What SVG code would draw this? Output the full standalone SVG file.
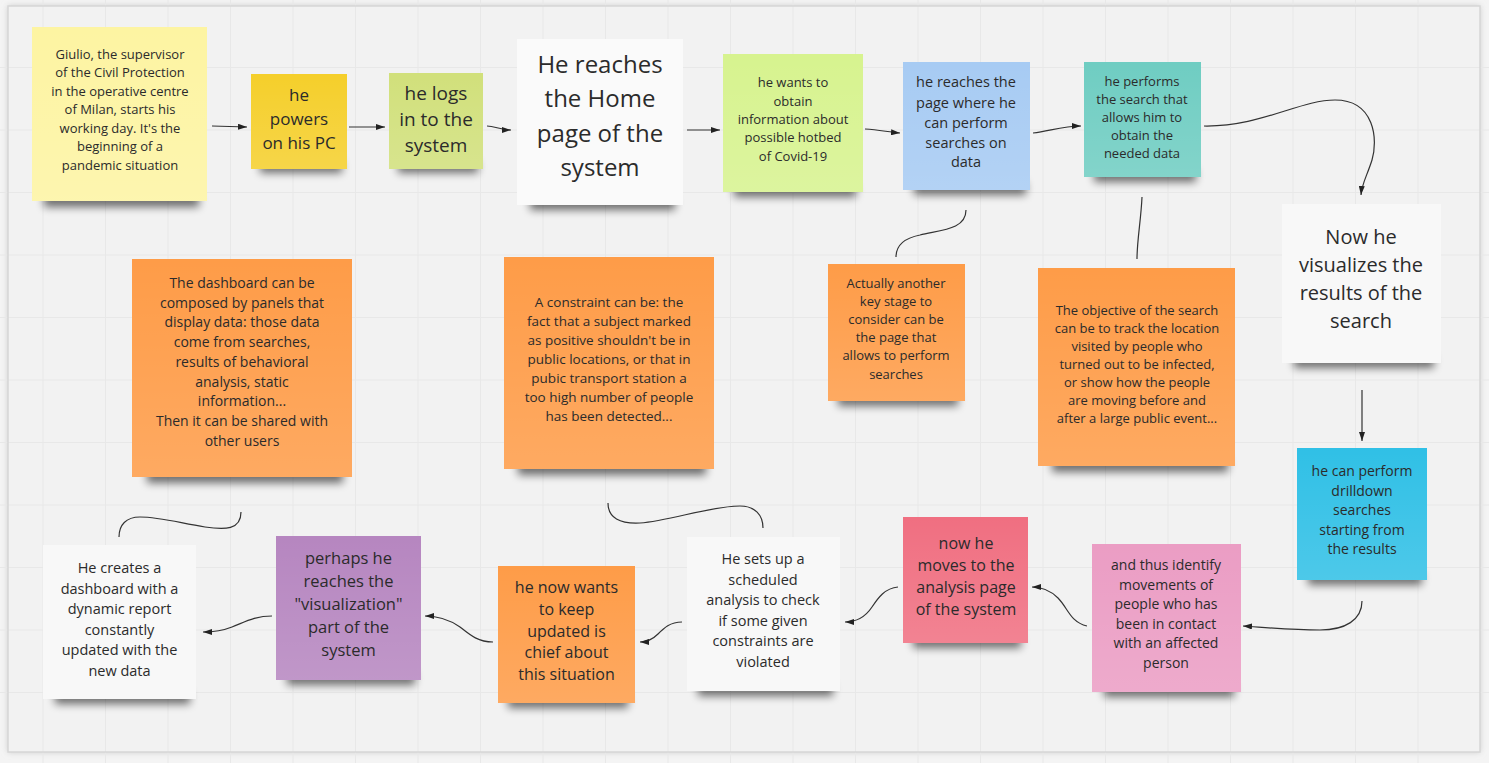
<svg xmlns="http://www.w3.org/2000/svg" width="1489" height="763" viewBox="0 0 1489 763">
<defs>
<style>
.note text{font-family:"Open Sans","Noto Sans","DejaVu Sans",sans-serif;fill:#2b2b2b;text-anchor:middle}
.sh{fill:#000;opacity:.55;filter:url(#blur)}
.gl{fill:url(#gloss)}
.con path{fill:none;stroke:#333;stroke-width:1.2}
.arr{marker-end:url(#ah)}
.grid line{stroke:#e8e8e8;stroke-width:1}
</style>
<filter id="blur" x="-20%" y="-100%" width="140%" height="300%"><feGaussianBlur stdDeviation="4"/></filter>
<filter id="fblur" x="-5%" y="-5%" width="110%" height="110%"><feGaussianBlur stdDeviation="3"/></filter>
<linearGradient id="gloss" x1="0" y1="0" x2="0" y2="1"><stop offset="0" stop-color="#fff" stop-opacity="0"/><stop offset="1" stop-color="#fff" stop-opacity="0.14"/></linearGradient>
<marker id="ah" markerUnits="userSpaceOnUse" markerWidth="9" markerHeight="6" refX="9" refY="3" orient="auto"><path d="M0,0 L9,3 L0,6 z" fill="#222"/></marker>
</defs>
<rect width="1489" height="763" fill="#f4f4f4"/>
<rect x="8" y="6" width="1472" height="746" fill="#c8c8c8" filter="url(#fblur)"/>
<rect x="8" y="6" width="1472" height="746" fill="#f2f2f2"/>
<g class="grid">
<line x1="43" y1="0" x2="43" y2="763"/><line x1="105.5" y1="0" x2="105.5" y2="763"/><line x1="168" y1="0" x2="168" y2="763"/><line x1="230.5" y1="0" x2="230.5" y2="763"/><line x1="293" y1="0" x2="293" y2="763"/><line x1="355.5" y1="0" x2="355.5" y2="763"/><line x1="418" y1="0" x2="418" y2="763"/><line x1="480.5" y1="0" x2="480.5" y2="763"/><line x1="543" y1="0" x2="543" y2="763"/><line x1="605.5" y1="0" x2="605.5" y2="763"/><line x1="668" y1="0" x2="668" y2="763"/><line x1="730.5" y1="0" x2="730.5" y2="763"/><line x1="793" y1="0" x2="793" y2="763"/><line x1="855.5" y1="0" x2="855.5" y2="763"/><line x1="918" y1="0" x2="918" y2="763"/><line x1="980.5" y1="0" x2="980.5" y2="763"/><line x1="1043" y1="0" x2="1043" y2="763"/><line x1="1105.5" y1="0" x2="1105.5" y2="763"/><line x1="1168" y1="0" x2="1168" y2="763"/><line x1="1230.5" y1="0" x2="1230.5" y2="763"/><line x1="1293" y1="0" x2="1293" y2="763"/><line x1="1355.5" y1="0" x2="1355.5" y2="763"/><line x1="1418" y1="0" x2="1418" y2="763"/>
<line x1="0" y1="67.5" x2="1489" y2="67.5"/><line x1="0" y1="130" x2="1489" y2="130"/><line x1="0" y1="192.5" x2="1489" y2="192.5"/><line x1="0" y1="255" x2="1489" y2="255"/><line x1="0" y1="317.5" x2="1489" y2="317.5"/><line x1="0" y1="380" x2="1489" y2="380"/><line x1="0" y1="442.5" x2="1489" y2="442.5"/><line x1="0" y1="505" x2="1489" y2="505"/><line x1="0" y1="567.5" x2="1489" y2="567.5"/><line x1="0" y1="630" x2="1489" y2="630"/><line x1="0" y1="692.5" x2="1489" y2="692.5"/>
</g>
<rect x="8" y="6" width="1472" height="746" fill="none" stroke="#d6d6d6" stroke-width="1.5"/>

<g id="connectors" class="con">
<path class="arr" d="M212,126 L247,127"/>
<path class="arr" d="M349,127 L385,127"/>
<path class="arr" d="M487,126 C495,126 500,130 511,130"/>
<path class="arr" d="M687,130 L720,130"/>
<path class="arr" d="M865,129 C880,130 888,132 900,133"/>
<path class="arr" d="M1033,133 C1050,131 1062,126 1081,126"/>
<path class="arr" d="M1204,126 C1260,127 1300,100 1335,100 C1375,100 1378,140 1372,160 C1367,176 1362,183 1361,195"/>
<path d="M966,210 C966,230 940,230 920,235 C905,238 896,245 896,257"/>
<path d="M1142,197 C1141,220 1137,240 1137,259"/>
<path class="arr" d="M1362,390 L1362,441"/>
<path class="arr" d="M1362,601 C1362,620 1345,630 1320,630 C1290,630 1260,627 1243,626"/>
<path class="arr" d="M1087,626 C1070,622 1068,608 1058,598 C1050,590 1042,587 1032,587"/>
<path class="arr" d="M898,587 C885,588 878,598 872,607 C866,616 858,622 845,622"/>
<path class="arr" d="M682,622 C670,622 664,628 658,634 C653,639 648,642 640,642"/>
<path class="arr" d="M493,642 C478,642 470,635 460,627 C450,620 440,616 425,616"/>
<path class="arr" d="M272,616 C255,616 245,622 232,627 C222,631 212,632 203,632"/>
<path d="M608,503 C608,518 620,524 640,523 C670,521 710,506 740,506 C755,506 763,515 763,528"/>
<path d="M241,512 C241,530 225,530 205,527 C180,523 160,517 140,517 C126,517 119,525 119,537"/>
</g>

<g id="n1" class="note">
<rect class="sh" x="44" y="193" width="155" height="14"/>
<rect x="32" y="27" width="175" height="174" fill="#fdf4a2"/>
<rect class="gl" x="32" y="27" width="175" height="174"/>
<text font-size="13"><tspan x="120" y="58.5">Giulio, the supervisor</tspan><tspan x="120" y="77">of the Civil Protection</tspan><tspan x="120" y="95.5">in the operative centre</tspan><tspan x="120" y="114">of Milan, starts his</tspan><tspan x="120" y="132.5">working day. It's the</tspan><tspan x="120" y="151">beginning of a</tspan><tspan x="120" y="169.5">pandemic situation</tspan></text>
</g>
<g id="n2" class="note">
<rect class="sh" x="260" y="161" width="82" height="12"/>
<rect x="251" y="74" width="96" height="95" fill="#f5cf2b"/>
<rect class="gl" x="251" y="74" width="96" height="95"/>
<text font-size="17"><tspan x="299" y="101">he</tspan><tspan x="299" y="125">powers</tspan><tspan x="299" y="149">on his PC</tspan></text>
</g>
<g id="n3" class="note">
<rect class="sh" x="398" y="161" width="80" height="12"/>
<rect x="389" y="73" width="94" height="96" fill="#d1e07b"/>
<rect class="gl" x="389" y="73" width="94" height="96"/>
<text font-size="19"><tspan x="436" y="100">he logs</tspan><tspan x="436" y="126">in to the</tspan><tspan x="436" y="152">system</tspan></text>
</g>
<g id="n4" class="note">
<rect class="sh" x="530" y="196" width="145" height="14"/>
<rect x="517" y="39" width="166" height="166" fill="#fafafa"/>
<text font-size="24"><tspan x="600" y="72.5">He reaches</tspan><tspan x="600" y="107">the Home</tspan><tspan x="600" y="141.5">page of the</tspan><tspan x="600" y="176">system</tspan></text>
</g>
<g id="n5" class="note">
<rect class="sh" x="734" y="184" width="122" height="13"/>
<rect x="723" y="54" width="140" height="138" fill="#d7f38f"/>
<rect class="gl" x="723" y="54" width="140" height="138"/>
<text font-size="13"><tspan x="793" y="87">he wants to</tspan><tspan x="793" y="105.5">obtain</tspan><tspan x="793" y="124">information about</tspan><tspan x="793" y="142">possible hotbed</tspan><tspan x="793" y="160.5">of Covid-19</tspan></text>
</g>
<g id="n6" class="note">
<rect class="sh" x="914" y="182" width="112" height="13"/>
<rect x="903" y="62" width="127" height="128" fill="#a7cbf3"/>
<rect class="gl" x="903" y="62" width="127" height="128"/>
<text font-size="14.5"><tspan x="966" y="87">he reaches the</tspan><tspan x="966" y="107.5">page where he</tspan><tspan x="966" y="127.5">can perform</tspan><tspan x="966" y="148">searches on</tspan><tspan x="966" y="167">data</tspan></text>
</g>
<g id="n7" class="note">
<rect class="sh" x="1094" y="169" width="102" height="13"/>
<rect x="1084" y="62" width="117" height="115" fill="#6fcdc2"/>
<rect class="gl" x="1084" y="62" width="117" height="115"/>
<text font-size="13"><tspan x="1142" y="85.5">he performs</tspan><tspan x="1142" y="103.5">the search that</tspan><tspan x="1142" y="121.5">allows him to</tspan><tspan x="1142" y="140">obtain the</tspan><tspan x="1142" y="158">needed data</tspan></text>
</g>
<g id="n8" class="note">
<rect class="sh" x="1294" y="355" width="140" height="13"/>
<rect x="1282" y="204" width="159" height="159" fill="#f8f8f8"/>
<text font-size="20"><tspan x="1361" y="244">Now he</tspan><tspan x="1361" y="272">visualizes the</tspan><tspan x="1361" y="300">results of the</tspan><tspan x="1361" y="328">search</tspan></text>
</g>
<g id="n9" class="note">
<rect class="sh" x="838" y="393" width="120" height="13"/>
<rect x="828" y="264" width="137" height="137" fill="#fe9c48"/>
<rect class="gl" x="828" y="264" width="137" height="137"/>
<text font-size="13"><tspan x="896" y="287.5">Actually another</tspan><tspan x="896" y="305.7">key stage to</tspan><tspan x="896" y="324">consider can be</tspan><tspan x="896" y="342.2">the page that</tspan><tspan x="896" y="360.4">allows to perform</tspan><tspan x="896" y="378.6">searches</tspan></text>
</g>
<g id="n10" class="note">
<rect class="sh" x="1052" y="458" width="176" height="14"/>
<rect x="1038" y="268" width="197" height="198" fill="#fe9c48"/>
<rect class="gl" x="1038" y="268" width="197" height="198"/>
<text font-size="13"><tspan x="1137" y="314.5">The objective of the search</tspan><tspan x="1137" y="332.5">can be to track the location</tspan><tspan x="1137" y="350.5">visited by people who</tspan><tspan x="1137" y="368.5">turned out to be infected,</tspan><tspan x="1137" y="386.5">or show how the people</tspan><tspan x="1137" y="404.5">are moving before and</tspan><tspan x="1137" y="422.5">after a large public event...</tspan></text>
</g>
<g id="n11" class="note">
<rect class="sh" x="1308" y="572" width="114" height="13"/>
<rect x="1297" y="448" width="130" height="132" fill="#30c0e6"/>
<rect class="gl" x="1297" y="448" width="130" height="132"/>
<text font-size="14"><tspan x="1362" y="476">he can perform</tspan><tspan x="1362" y="495.5">drilldown</tspan><tspan x="1362" y="515">searches</tspan><tspan x="1362" y="534.5">starting from</tspan><tspan x="1362" y="554">the results</tspan></text>
</g>
<g id="n12" class="note">
<rect class="sh" x="1104" y="684" width="130" height="13"/>
<rect x="1092" y="544" width="149" height="148" fill="#eb9dc4"/>
<rect class="gl" x="1092" y="544" width="149" height="148"/>
<text font-size="14"><tspan x="1166" y="570">and thus identify</tspan><tspan x="1166" y="589.6">movements of</tspan><tspan x="1166" y="609.2">people who has</tspan><tspan x="1166" y="628.8">been in contact</tspan><tspan x="1166" y="648.4">with an affected</tspan><tspan x="1166" y="668">person</tspan></text>
</g>
<g id="n13" class="note">
<rect class="sh" x="913" y="635" width="108" height="13"/>
<rect x="903" y="517" width="125" height="126" fill="#f06f81"/>
<rect class="gl" x="903" y="517" width="125" height="126"/>
<text font-size="16"><tspan x="966" y="549">now he</tspan><tspan x="966" y="571">moves to the</tspan><tspan x="966" y="593">analysis page</tspan><tspan x="966" y="615">of the system</tspan></text>
</g>
<g id="n14" class="note">
<rect class="sh" x="698" y="683" width="135" height="13"/>
<rect x="687" y="537" width="153" height="154" fill="#f8f8f8"/>
<text font-size="14.5"><tspan x="763" y="564">He sets up a</tspan><tspan x="763" y="584.5">scheduled</tspan><tspan x="763" y="605">analysis to check</tspan><tspan x="763" y="625.5">if some given</tspan><tspan x="763" y="646">constraints are</tspan><tspan x="763" y="666.5">violated</tspan></text>
</g>
<g id="n15" class="note">
<rect class="sh" x="55" y="691" width="135" height="13"/>
<rect x="43" y="545" width="153" height="154" fill="#f8f8f8"/>
<text font-size="14.5"><tspan x="119.5" y="573">He creates a</tspan><tspan x="119.5" y="593.5">dashboard with a</tspan><tspan x="119.5" y="614">dynamic report</tspan><tspan x="119.5" y="634.5">constantly</tspan><tspan x="119.5" y="655">updated with the</tspan><tspan x="119.5" y="675.5">new data</tspan></text>
</g>
<g id="n16" class="note">
<rect class="sh" x="287" y="672" width="128" height="13"/>
<rect x="276" y="536" width="145" height="144" fill="#b686c0"/>
<rect class="gl" x="276" y="536" width="145" height="144"/>
<text font-size="16.5"><tspan x="348.5" y="564">perhaps he</tspan><tspan x="348.5" y="587">reaches the</tspan><tspan x="348.5" y="610">"visualization"</tspan><tspan x="348.5" y="633">part of the</tspan><tspan x="348.5" y="656">system</tspan></text>
</g>
<g id="n17" class="note">
<rect class="sh" x="508" y="695" width="120" height="13"/>
<rect x="498" y="566" width="137" height="137" fill="#fe9c48"/>
<rect class="gl" x="498" y="566" width="137" height="137"/>
<text font-size="16"><tspan x="566.5" y="593">he now wants</tspan><tspan x="566.5" y="614.8">to keep</tspan><tspan x="566.5" y="636.6">updated is</tspan><tspan x="566.5" y="658.4">chief about</tspan><tspan x="566.5" y="680.2">this situation</tspan></text>
</g>
<g id="n18" class="note">
<rect class="sh" x="147" y="469" width="196" height="14"/>
<rect x="132" y="259" width="220" height="218" fill="#fe9c48"/>
<rect class="gl" x="132" y="259" width="220" height="218"/>
<text font-size="14"><tspan x="242" y="288">The dashboard can be</tspan><tspan x="242" y="307.7">composed by panels that</tspan><tspan x="242" y="327.4">display data: those data</tspan><tspan x="242" y="347.1">come from searches,</tspan><tspan x="242" y="366.8">results of behavioral</tspan><tspan x="242" y="386.5">analysis, static</tspan><tspan x="242" y="406.2">information...</tspan><tspan x="242" y="425.9">Then it can be shared with</tspan><tspan x="242" y="445.6">other users</tspan></text>
</g>
<g id="n19" class="note">
<rect class="sh" x="518" y="461" width="188" height="14"/>
<rect x="504" y="257" width="210" height="212" fill="#fe9c48"/>
<rect class="gl" x="504" y="257" width="210" height="212"/>
<text font-size="13.5"><tspan x="609" y="307">A constraint can be: the</tspan><tspan x="609" y="326">fact that a subject marked</tspan><tspan x="609" y="345">as positive shouldn't be in</tspan><tspan x="609" y="364">public locations, or that in</tspan><tspan x="609" y="383">pubic transport station a</tspan><tspan x="609" y="402">too high number of people</tspan><tspan x="609" y="421">has been detected...</tspan></text>
</g>
</svg>
